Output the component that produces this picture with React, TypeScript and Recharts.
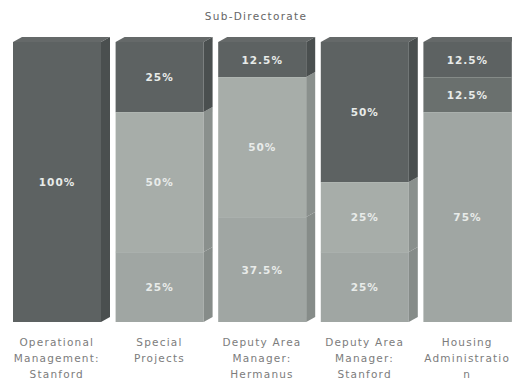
import { BarChart, Bar, XAxis, YAxis, LabelList } from 'recharts';

const categories = [
  ['Operational', 'Management:', 'Stanford'],
  ['Special', 'Projects'],
  ['Deputy Area', 'Manager:', 'Hermanus'],
  ['Deputy Area', 'Manager:', 'Stanford'],
  ['Housing', 'Administratio', 'n'],
];
// shares per stack level, bottom to top
const bottomShare = [0, 25, 37.5, 25, 75];
const middleShare = [0, 50, 50, 25, 0];
const upperShare = [0, 0, 0, 0, 12.5];
const topShare = [100, 25, 12.5, 50, 12.5];

const data = categories.map((lines, i) => ({
  name: lines.join(' '),
  bottom: bottomShare[i],
  middle: middleShare[i],
  upper: upperShare[i],
  top: topShare[i],
}));

const DX = 9;
const DY = 5;
const FONT = '"DejaVu Sans", Verdana, sans-serif';

const makeShape = (front: string, side: string, isTop: boolean) => (props: any) => {
  const { x, y, width, height } = props;
  if (!height || height <= 0) return <g />;
  const fx = x + width - DX;
  const b = y + height;
  return (
    <g>
      <rect x={x} y={y} width={width - DX} height={height} fill={front} />
      <polygon points={`${fx},${y} ${x + width},${y - DY} ${x + width},${b - DY} ${fx},${b}`} fill={side} />
      {isTop && (
        <polygon points={`${x},${y} ${x + DX},${y - DY} ${x + width},${y - DY} ${fx},${y}`} fill={side} opacity={0.85} />
      )}
      {!isTop && <line x1={x} x2={fx} y1={y} y2={y} stroke="#c4c9c6" strokeWidth={1} opacity={0.6} />}
    </g>
  );
};

const renderLabel = (props: any) => {
  const { x, y, width, height, value } = props;
  if (!value) return null;
  return (
    <text
      x={x + (width - DX) / 2}
      y={y + height / 2}
      textAnchor="middle"
      dominantBaseline="central"
      fill="#e8ebe9"
      fontSize={10.5}
      fontWeight="bold"
      fontFamily={FONT}
      letterSpacing={1}
    >
      {`${value}%`}
    </text>
  );
};

const CategoryTick = (props: any) => {
  const { x, y, index } = props;
  const lines = categories[index] || [];
  return (
    <g>
      {lines.map((line, i) => (
        <text
          key={i}
          x={x - DX / 2}
          y={y + 16 + i * 16}
          textAnchor="middle"
          fill="#7c7c7c"
          fontSize={10.5}
          fontFamily={FONT}
          letterSpacing={1.2}
        >
          {line}
        </text>
      ))}
    </g>
  );
};

export default function App() {
  return (
    <div style={{ position: 'fixed', left: 0, top: 0, width: 512, height: 385, overflow: 'hidden', background: '#fff' }}>
      <div style={{ position: 'absolute', top: 10, width: 512, textAlign: 'center', fontFamily: FONT, fontSize: 10.5, color: '#666', letterSpacing: 1.3 }}>
        Sub-Directorate
      </div>
      <BarChart
        width={530}
        height={385}
        data={data}
        margin={{ top: 42, right: 7, left: 10, bottom: 0 }}
        barCategoryGap={3}
      >
        <XAxis dataKey="name" height={63} axisLine={false} tickLine={false} interval={0} tick={<CategoryTick />} />
        <YAxis hide domain={[0, 100]} />
        <Bar dataKey="bottom" stackId="s" fill="#a0a6a3" shape={makeShape('#a0a6a3', '#868c89', false)} isAnimationActive={false}>
          <LabelList dataKey="bottom" content={renderLabel} />
        </Bar>
        <Bar dataKey="middle" stackId="s" fill="#a7ada9" shape={makeShape('#a7ada9', '#8a908d', false)} isAnimationActive={false}>
          <LabelList dataKey="middle" content={renderLabel} />
        </Bar>
        <Bar dataKey="upper" stackId="s" fill="#6a706e" shape={makeShape('#6a706e', '#565b5a', false)} isAnimationActive={false}>
          <LabelList dataKey="upper" content={renderLabel} />
        </Bar>
        <Bar dataKey="top" stackId="s" fill="#5d6262" shape={makeShape('#5d6262', '#4a4f4f', true)} isAnimationActive={false}>
          <LabelList dataKey="top" content={renderLabel} />
        </Bar>
      </BarChart>
    </div>
  );
}
